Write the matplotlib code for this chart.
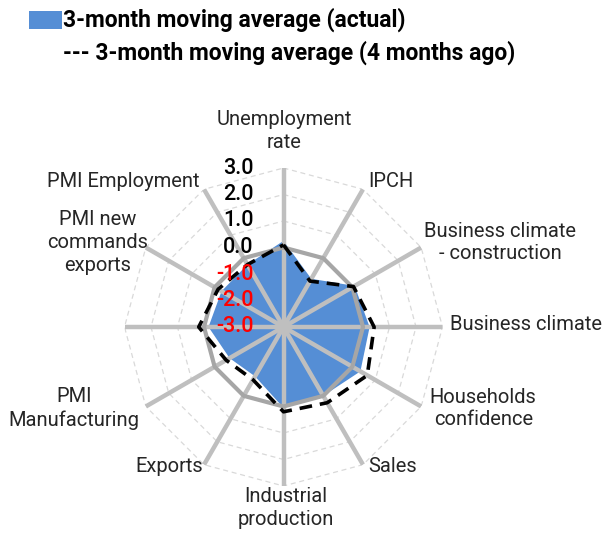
import numpy as np
import matplotlib
matplotlib.use("Agg")
import matplotlib.pyplot as plt
from matplotlib.patches import Rectangle

plt.rcParams['font.family'] = ['Roboto', 'DejaVu Sans']

categories = ["Unemployment\nrate", "IPCH", "Business climate\n- construction",
              "Business climate", "Households\nconfidence", "Sales",
              "Industrial\nproduction", "Exports", "PMI\nManufacturing", "",
              "PMI new\ncommands\nexports", "PMI Employment"]
actual = [0.25, -0.9, 0.1, 0.25, 0.35, 0.0, 0.05, -0.85, -0.65, -0.17, -0.3, -0.28]
four_months_ago = [0.1, -1.0, 0.05, 0.42, 0.65, 0.3, 0.2, -0.7, -0.5, 0.2, -0.15, -0.28]
baseline = [0.0] * 12
tick_values = [3.0, 2.0, 1.0, 0.0, -1.0, -2.0, -3.0]
tick_labels = ["3.0", "2.0", "1.0", "0.0", "-1.0", "-2.0", "-3.0"]
legend_labels = ["3-month moving average (actual)",
                 "--- 3-month moving average (4 months ago)"]

BLUE = "#558ED5"
SPOKE = "#BFBFBF"
ZERO = "#A6A6A6"
GRID = "#D9D9D9"

W, H = 605, 542
fig = plt.figure(figsize=(W / 100, H / 100), dpi=100)
cx, cy, R = 283.5, 327, 159
ax = fig.add_axes([(cx - R) / W, (H - cy - R) / H, 2 * R / W, 2 * R / H], projection='polar')
ax.set_theta_zero_location('N')
ax.set_theta_direction(-1)
ax.set_ylim(-3, 3)
ax.axis('off')

n = len(categories)
theta = np.arange(n) * 2 * np.pi / n
theta_c = np.append(theta, theta[0])

def closed(v):
    return np.append(v, v[0])

# dashed grid polygons
for v in tick_values[:-1]:
    ax.plot(theta_c, [v] * (n + 1), color=GRID, lw=0.9, ls=(0, (4, 3)), zorder=1)

# blue area
ax.fill(theta_c, closed(actual), color=BLUE, lw=0, zorder=2)

# spokes
for t in theta:
    ax.plot([t, t], [-3, 3], color=SPOKE, lw=3.2, solid_capstyle='butt', zorder=3)

# zero baseline
ax.plot(theta_c, closed(baseline), color=ZERO, lw=3.0, zorder=4)

# dashed series
ax.plot(theta_c, closed(four_months_ago), color='black', lw=2.6, ls=(0, (3.5, 2.2)), zorder=5)

# category labels
offsets = [(1, 37, 'center'), (5, 8, 'left'), (79, 5, 'center'), (7, 2, 'left'),
           (62, -2, 'center'), (5, -2, 'left'), (2, -22, 'center'), (-1, -2, 'right'),
           (-72, -2, 'center'), (0, 0, 'center'), (-48, 5, 'center'), (-4, 8, 'right')]
for t, lab, (dx, dy, ha) in zip(theta, categories, offsets):
    if lab:
        ax.annotate(lab, xy=(t, 3), xytext=(dx, dy), textcoords='offset pixels',
                    ha=ha, va='center', fontsize=14.5, color='#262626',
                    linespacing=1.25, fontweight='normal', annotation_clip=False, zorder=6)

# radial tick labels
for v, lab in zip(tick_values, tick_labels):
    ax.annotate(lab, xy=(0, v), xytext=(-30, 0), textcoords='offset pixels',
                ha='right', va='center', fontsize=15.5, fontweight='medium',
                color='red' if v < 0 else 'black', annotation_clip=False, zorder=7)

# legend
fig.patches.append(Rectangle((29 / W, 1 - 29 / H), 33 / W, 18 / H, transform=fig.transFigure,
                             facecolor=BLUE, edgecolor='none'))
fig.text(63 / W, 1 - 20 / H, legend_labels[0], fontsize=16.5, fontweight='bold',
         va='center', ha='left', color='black')
fig.text(63 / W, 1 - 53 / H, legend_labels[1], fontsize=16.5, fontweight='bold',
         va='center', ha='left', color='black')

fig.savefig("out.png", dpi=100, facecolor='white')
